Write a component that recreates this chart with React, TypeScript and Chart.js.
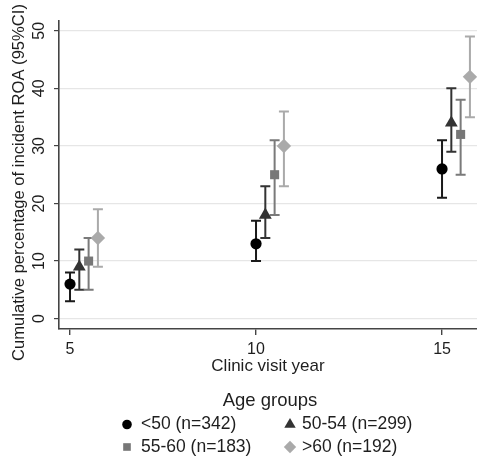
import React, { useEffect, useRef } from 'react';
import { Chart, registerables } from 'chart.js';
import { drawPoint } from 'chart.js/helpers';

Chart.register(...registerables);

// Follow-up years and age groups
const years = [5, 10, 15];
const groupLabels = ['<50 (n=342)', '50-54 (n=299)', '55-60 (n=183)', '>60 (n=192)'];

// Cumulative percentage of incident ROA with 95% CI, per age group
const under50 = [6, 13, 26];
const under50Lo = [3, 10, 21];
const under50Hi = [8, 17, 31];

const age50to54 = [9, 18, 34];
const age50to54Lo = [5, 14, 29];
const age50to54Hi = [12, 23, 40];

const age55to60 = [10, 25, 32];
const age55to60Lo = [5, 18, 25];
const age55to60Hi = [14, 31, 38];

const over60 = [14, 30, 42];
const over60Lo = [9, 23, 35];
const over60Hi = [19, 36, 49];

const yTicks = [0, 10, 20, 30, 40, 50];
const xTicks = [5, 10, 15];

const yTitle = 'Cumulative percentage of incident ROA (95%CI)';

const FONT = "'Liberation Sans', Arial, Helvetica, sans-serif";
const TEXT = '#1e1e1e';
const AXIS = '#444';

// horizontal dodge so the groups do not overlap at each year
const dodge = [0, 0.25, 0.5, 0.75];

const series = [
  { label: groupLabels[0], est: under50, lo: under50Lo, hi: under50Hi, style: 'circle', r: 5.6, legendR: 4.8, fill: '#000000', bar: '#1a1a1a' },
  { label: groupLabels[1], est: age50to54, lo: age50to54Lo, hi: age50to54Hi, style: 'triangle', r: 7.4, legendR: 6.6, fill: '#333333', bar: '#333333' },
  { label: groupLabels[2], est: age55to60, lo: age55to60Lo, hi: age55to60Hi, style: 'rect', r: 6.4, legendR: 5.4, fill: '#777777', bar: '#7a7a7a' },
  { label: groupLabels[3], est: over60, lo: over60Lo, hi: over60Hi, style: 'rectRot', r: 7.2, legendR: 6.2, fill: '#aaaaaa', bar: '#aaaaaa' },
];

const errorBars = {
  id: 'errorBars',
  beforeDatasetsDraw(chart: any) {
    const { ctx } = chart;
    const yScale = chart.scales.y;
    chart.data.datasets.forEach((ds: any, i: number) => {
      const meta = chart.getDatasetMeta(i);
      ctx.save();
      ctx.strokeStyle = ds.barColor;
      ctx.lineWidth = 2;
      meta.data.forEach((pt: any, j: number) => {
        const x = pt.x;
        const yLo = yScale.getPixelForValue(ds.lower[j]);
        const yHi = yScale.getPixelForValue(ds.upper[j]);
        const cap = 5;
        ctx.beginPath();
        ctx.moveTo(x, yLo);
        ctx.lineTo(x, yHi);
        ctx.moveTo(x - cap, yLo);
        ctx.lineTo(x + cap, yLo);
        ctx.moveTo(x - cap, yHi);
        ctx.lineTo(x + cap, yHi);
        ctx.stroke();
      });
      ctx.restore();
    });
  },
};

// rotated y tick labels and y-axis title
const yAxisText = {
  id: 'yAxisText',
  afterDraw(chart: any) {
    const { ctx } = chart;
    const yScale = chart.scales.y;
    ctx.save();
    ctx.fillStyle = TEXT;
    ctx.font = `16px ${FONT}`;
    ctx.textAlign = 'center';
    ctx.textBaseline = 'middle';
    yScale.ticks.forEach((t: any) => {
      const y = yScale.getPixelForValue(t.value);
      ctx.save();
      ctx.translate(40, y);
      ctx.rotate(-Math.PI / 2);
      ctx.fillText(String(t.value), 0, 0);
      ctx.restore();
    });
    ctx.font = `16.6px ${FONT}`;
    ctx.translate(19.5, 182.5);
    ctx.rotate(-Math.PI / 2);
    ctx.fillText(yTitle, 0, 0);
    ctx.restore();
  },
};

const ageLegend = {
  id: 'ageLegend',
  afterDraw(chart: any) {
    const { ctx } = chart;
    ctx.save();
    ctx.fillStyle = TEXT;
    ctx.textBaseline = 'middle';
    ctx.textAlign = 'center';
    ctx.font = `18.5px ${FONT}`;
    ctx.fillText('Age groups', 270, 401);
    const markerX = [127, 290];
    const textX = [141, 302];
    const rowY = [424.5, 447];
    ctx.font = `17.5px ${FONT}`;
    ctx.textAlign = 'left';
    chart.data.datasets.forEach((ds: any, i: number) => {
      const col = i % 2;
      const row = Math.floor(i / 2);
      ctx.fillStyle = ds.backgroundColor;
      drawPoint(ctx, { pointStyle: ds.pointStyle, radius: ds.legendRadius, rotation: 0, borderWidth: 0 }, markerX[col], rowY[row]);
      ctx.fillStyle = TEXT;
      ctx.fillText(ds.label, textX[col], rowY[row]);
    });
    ctx.restore();
  },
};

export default function App() {
  const canvasRef = useRef<HTMLCanvasElement | null>(null);

  useEffect(() => {
    const canvas = canvasRef.current;
    if (!canvas) return;
    const chart = new Chart(canvas, {
      type: 'scatter',
      data: {
        datasets: series.map((s, k) => ({
          label: s.label,
          data: s.est.map((v, j) => ({ x: years[j] + dodge[k], y: v })),
          lower: s.lo,
          upper: s.hi,
          barColor: s.bar,
          legendRadius: s.legendR,
          pointStyle: s.style,
          pointRadius: s.r,
          pointBorderWidth: 0,
          backgroundColor: s.fill,
          borderColor: s.fill,
          showLine: false,
        })) as any,
      },
      options: {
        responsive: false,
        animation: false,
        devicePixelRatio: 1,
        layout: { autoPadding: false, padding: { top: 21, left: 0, right: 0, bottom: 81 } },
        plugins: {
          legend: { display: false },
          tooltip: { enabled: false },
        },
        scales: {
          x: {
            type: 'linear',
            min: 4.704,
            max: 15.94,
            afterBuildTicks: (s: any) => {
              s.ticks = xTicks.map((v) => ({ value: v }));
            },
            afterFit: (s: any) => {
              s.height = 46;
              s.paddingLeft = 0;
              s.paddingRight = 0;
            },
            ticks: {
              font: { family: FONT, size: 16 },
              color: TEXT,
              padding: 5,
            },
            grid: { drawOnChartArea: false, tickColor: AXIS, tickLength: 6, lineWidth: 1.4 },
            border: { color: AXIS, width: 1.6 },
            title: {
              display: true,
              text: 'Clinic visit year',
              color: TEXT,
              font: { family: FONT, size: 17, lineHeight: 1 },
              padding: { top: 0, bottom: 0 },
            },
          },
          y: {
            type: 'linear',
            min: -1.8,
            max: 51.7,
            afterBuildTicks: (s: any) => {
              s.ticks = yTicks.map((v) => ({ value: v }));
            },
            afterFit: (s: any) => {
              s.width = 59;
              s.paddingTop = 0;
              s.paddingBottom = 0;
            },
            ticks: { display: false },
            grid: { color: '#e6e6e6', tickColor: AXIS, tickLength: 5, lineWidth: 1.2 },
            border: { color: AXIS, width: 1.6 },
            title: { display: false },
          },
        },
      } as any,
      plugins: [errorBars, yAxisText, ageLegend],
    });
    return () => chart.destroy();
  }, []);

  return (
    <div style={{ position: 'absolute', left: 0, top: 0, width: 477, height: 456, background: '#fff' }}>
      <canvas ref={canvasRef} width={477} height={456} style={{ display: 'block' }} />
    </div>
  );
}
